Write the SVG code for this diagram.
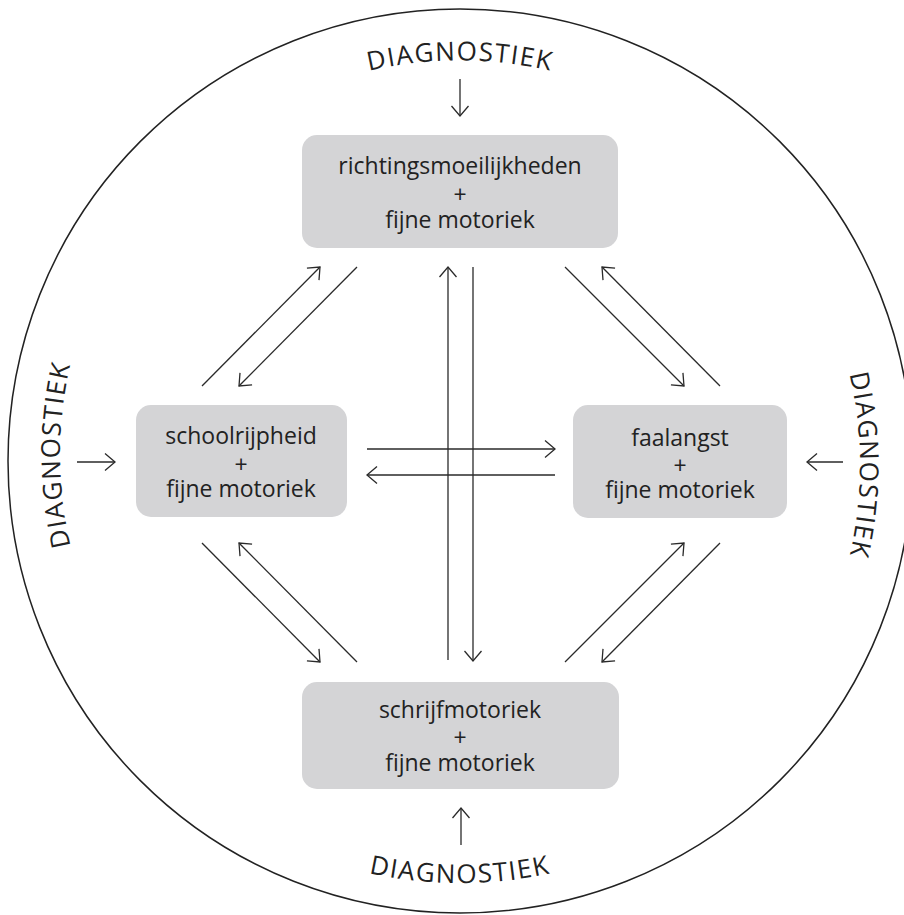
<svg xmlns="http://www.w3.org/2000/svg" width="904" height="915" viewBox="0 0 904 915">
<style>
.box{fill:#d4d4d6;}
.t{font-family:"Open Sans","Noto Sans",sans-serif;font-size:23px;fill:#222;text-anchor:middle;}
.d{font-family:"Open Sans","Noto Sans",sans-serif;font-size:26px;fill:#222;letter-spacing:1.5px;}
.c{fill:none;stroke:#2a2a2a;stroke-width:1.3;}
</style>
<defs>
<marker id="ah" markerUnits="userSpaceOnUse" markerWidth="24" markerHeight="24" viewBox="-12 -12 24 24" refX="0" refY="0" orient="auto">
<path d="M-10,-8.5 L0,0 L-10,8.5" fill="none" stroke="#2a2a2a" stroke-width="1.3"/>
</marker>
<path id="pTop" d="M113,260.5 A401,401 0 0 1 807,260.5"/>
<path id="pBot" d="M94.5,672 A422,422 0 0 0 825.5,672"/>
<path id="pLeft" d="M260,801.4 A400,400 0 0 1 260,108.6"/>
<path id="pRight" d="M660,118.6 A400,400 0 0 1 660,811.4"/>
</defs>
<rect width="904" height="915" fill="#fff"/>
<circle cx="460" cy="461" r="452" fill="none" stroke="#222" stroke-width="1.5"/>

<g id="label-top"><text class="d"><textPath href="#pTop" startOffset="50%" text-anchor="middle">DIAGNOSTIEK</textPath></text></g>
<g id="label-bottom"><text class="d"><textPath href="#pBot" startOffset="50%" text-anchor="middle">DIAGNOSTIEK</textPath></text></g>
<g id="label-left"><text class="d"><textPath href="#pLeft" startOffset="50%" text-anchor="middle">DIAGNOSTIEK</textPath></text></g>
<g id="label-right"><text class="d"><textPath href="#pRight" startOffset="50%" text-anchor="middle">DIAGNOSTIEK</textPath></text></g>

<g id="node-top">
<rect class="box" x="302" y="135" width="316" height="113" rx="15"/>
<text class="t" x="460" y="174">richtingsmoeilijkheden</text>
<text class="t" x="460" y="203">+</text>
<text class="t" x="460" y="228">fijne motoriek</text>
</g>
<g id="node-left">
<rect class="box" x="136" y="405" width="211" height="112" rx="15"/>
<text class="t" x="241" y="444">schoolrijpheid</text>
<text class="t" x="241" y="473">+</text>
<text class="t" x="241" y="497">fijne motoriek</text>
</g>
<g id="node-right">
<rect class="box" x="573" y="405" width="214" height="113" rx="15"/>
<text class="t" x="680" y="446">faalangst</text>
<text class="t" x="680" y="474">+</text>
<text class="t" x="680" y="498">fijne motoriek</text>
</g>
<g id="node-bottom">
<rect class="box" x="302" y="682" width="317" height="107" rx="15"/>
<text class="t" x="460" y="718">schrijfmotoriek</text>
<text class="t" x="460" y="746">+</text>
<text class="t" x="460" y="771">fijne motoriek</text>
</g>

<g id="connectors" class="c">
<line x1="460" y1="79" x2="460" y2="116" marker-end="url(#ah)"/>
<line x1="77" y1="462" x2="115" y2="462" marker-end="url(#ah)"/>
<line x1="843" y1="462" x2="807" y2="462" marker-end="url(#ah)"/>
<line x1="461" y1="845" x2="461" y2="808" marker-end="url(#ah)"/>

<line x1="202" y1="386" x2="320" y2="267" marker-end="url(#ah)"/>
<line x1="357" y1="267" x2="239" y2="386" marker-end="url(#ah)"/>
<line x1="565" y1="267" x2="684" y2="386" marker-end="url(#ah)"/>
<line x1="720" y1="386" x2="602" y2="267" marker-end="url(#ah)"/>
<line x1="202" y1="543" x2="320" y2="662" marker-end="url(#ah)"/>
<line x1="357" y1="662" x2="239" y2="543" marker-end="url(#ah)"/>
<line x1="565" y1="662" x2="684" y2="543" marker-end="url(#ah)"/>
<line x1="720" y1="543" x2="602" y2="662" marker-end="url(#ah)"/>

<line x1="448" y1="660" x2="448" y2="267" marker-end="url(#ah)"/>
<line x1="473" y1="267" x2="473" y2="661" marker-end="url(#ah)"/>
<line x1="367" y1="449" x2="555" y2="449" marker-end="url(#ah)"/>
<line x1="555" y1="475" x2="367" y2="475" marker-end="url(#ah)"/>
</g>
</svg>
